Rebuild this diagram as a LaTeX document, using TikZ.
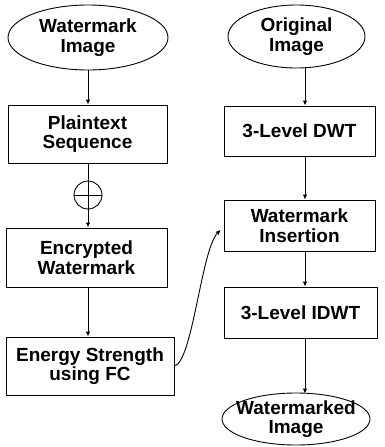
\documentclass[tikz,border=0pt]{standalone}
\usepackage{fontspec}
\setmainfont{Liberation Sans}
\usetikzlibrary{shapes.geometric,arrows.meta,calc}
\begin{document}
\begin{tikzpicture}[x=1pt,y=-1pt,
  every node/.style={font=\fontsize{19}{19.5}\selectfont\bfseries, align=center, inner sep=0pt},
  term/.style={draw, ellipse, line width=0.9pt},
  proc/.style={draw, rectangle, line width=0.9pt},
  txt/.style={},
  flow/.style={line width=0.9pt, -{Latex[length=5pt,width=4.5pt]}}]
\useasboundingbox (0,0) rectangle (385,447);
% left column
\node[term, minimum width=160, minimum height=65] (wi) at (88,37.5) {};
\node[txt] (wit) at (wi) {Watermark\\Image};
\node[proc, minimum width=159, minimum height=58] (pt) at (87.5,134) {Plaintext\\Sequence};
\node[circle, draw, line width=0.9pt, minimum size=28] (xor) at (88,195) {};
\node[proc, minimum width=161, minimum height=59] (ew) at (86.5,257.5) {Encrypted\\Watermark};
\node[proc, minimum width=168, minimum height=58] (es) at (90,366) {Energy Strength\\using FC};
% right column
\node[term, minimum width=137, minimum height=63] (oi) at (296.5,36.5) {};
\node[txt] (oit) at (oi) {Original\\Image};
\node[proc, minimum width=151, minimum height=50] (dwt) at (299.5,131) {3-Level DWT};
\node[proc, minimum width=151, minimum height=51] (ins) at (299.5,225.5) {Watermark\\Insertion};
\node[proc, minimum width=153, minimum height=51] (idwt) at (300.5,312.5) {3-Level IDWT};
\node[term, minimum width=148, minimum height=52] (wmi) at (296,419) {};
\node[txt] (wmit) at (wmi) {Watermarked\\Image};
% column axes
\coordinate (cl) at (88,0);
\coordinate (cr) at (305,0);
% left arrows
\draw[flow] (wi.south -| cl) -- (pt.north -| cl);
\draw[flow] (pt.south -| cl) -- (ew.north -| cl);
\draw[line width=0.9pt] (xor.west) -- (xor.east);
\draw[flow] (ew.south -| cl) -- (es.north -| cl);
% right arrows
\draw[flow] ($(oi.south -| cr)+(0,-1)$) -- (dwt.north -| cr);
\draw[flow] (dwt.south -| cr) -- (ins.north -| cr);
\draw[flow] (ins.south -| cr) -- (idwt.north -| cr);
\draw[flow] (idwt.south -| cr) -- ($(wmi.north -| cr)+(0,1)$);
% curve
\draw[flow, shorten >=4pt] (es.east) .. controls +(18,-4) and +(-22,22) .. ($(ins.west)+(0,1.5)$);
\end{tikzpicture}
\end{document}
